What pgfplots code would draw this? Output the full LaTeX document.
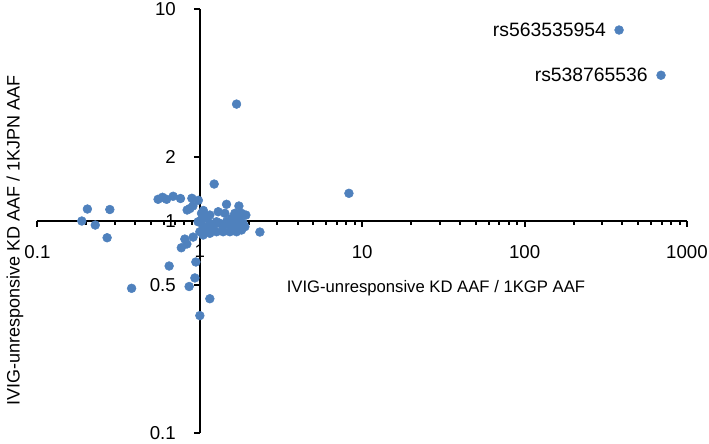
\documentclass[border=0pt]{standalone}
\usepackage{pgfplots}
\pgfplotsset{compat=1.18}
\usepackage{fontspec}
\setmainfont{Liberation Sans}
\definecolor{ptblue}{RGB}{79,129,189}
\begin{document}
\begin{tikzpicture}
\begin{axis}[
  name=ax,
  scale only axis,
  width=487.1pt, height=318pt,
  xmode=log, ymode=log,
  xmin=0.1, xmax=1000, ymin=0.1, ymax=10,
  axis x line=middle, axis y line=middle,
  axis line style={-, line width=1.5pt, black},
  hide obscured x ticks=false, hide obscured y ticks=false,
  xtick={0.1,1,10,100,1000}, xticklabels={0.1,1,10,100,1000},
  ytick={0.1,0.5,1,2,10}, yticklabels={0.1,0.5,1,2,10},
  minor xtick={}, minor ytick={},
  tick align=outside,
  major tick length=4.5pt,
  tick style={line width=1.5pt, black},
  ticklabel style={font=\fontsize{14}{16}\selectfont},
  xticklabel style={anchor=north, yshift=-10pt},
  yticklabel style={anchor=east, xshift=-10pt},
  xlabel={IVIG-unresponsive KD AAF / 1KGP AAF},
  ylabel={IVIG-unresponsive KD AAF / 1KJPN AAF},
  xlabel style={at={(axis description cs:0.6135,0.342)}, anchor=center, font=\fontsize{12.5}{14}\selectfont},
  ylabel style={at={(axis description cs:-0.0346,0.454)}, anchor=center, rotate=90, font=\fontsize{13.5}{15}\selectfont},
  clip=false,
]
\addplot[only marks, mark=*, mark size=3.3pt, mark options={draw=ptblue, fill=ptblue}] coordinates {
(0.203,1.139) (0.279,1.133) (0.1875,1.0) (0.227,0.957) (0.2685,0.834)
(0.380,0.4815) (0.647,0.6135) (0.859,0.491) (0.932,0.539) (0.945,0.641)
(1.152,0.430) (1.0,0.358) (0.769,0.748) (0.808,0.822) (0.832,0.779)
(0.909,0.840) (0.553,1.266) (0.589,1.294) (0.624,1.266) (0.685,1.308)
(0.760,1.277) (0.893,1.280) (0.979,1.252) (0.835,1.127) (0.868,1.145)
(0.906,1.177) (1.051,1.121) (1.225,1.494) (1.683,3.56) (8.28,1.351)
(381.7,7.96) (692,4.87) (1.46,1.199) (1.74,1.177) (1.297,1.106)
(1.426,1.087) (1.643,1.087) (1.807,1.087) (1.921,1.067) (2.343,0.887)
(0.976,0.992) (1.024,1.011) (1.100,1.030) (1.152,0.975) (1.048,0.940)
(1.0,0.890) (1.100,0.907) (1.208,0.940) (1.267,0.992) (1.328,0.975)
(1.392,0.940) (1.460,0.992) (1.531,0.957) (1.604,0.924) (1.683,0.975)
(1.764,1.011) (1.848,0.975) (1.807,0.907) (1.683,0.890) (1.531,0.890)
(1.392,0.890) (1.267,0.890) (1.152,0.875) (1.048,0.859) (1.764,0.940)
(1.894,0.940) (1.024,1.087) (1.152,1.067) (1.683,1.048) (1.568,1.030)
};
\node[anchor=east, inner sep=0pt, xshift=-9.75pt, font=\fontsize{14.5}{16}\selectfont] at (axis cs:381.7,7.96) {rs563535954};
\node[anchor=east, inner sep=0pt, xshift=-9.75pt, font=\fontsize{14.5}{16}\selectfont] at (axis cs:692,4.87) {rs538765536};
\end{axis}
\pgfresetboundingbox
\path[use as bounding box] ([xshift=-28.1pt,yshift=-7.5pt]ax.south west) rectangle ([xshift=16.5pt,yshift=6.75pt]ax.north east);
\end{tikzpicture}
\end{document}
